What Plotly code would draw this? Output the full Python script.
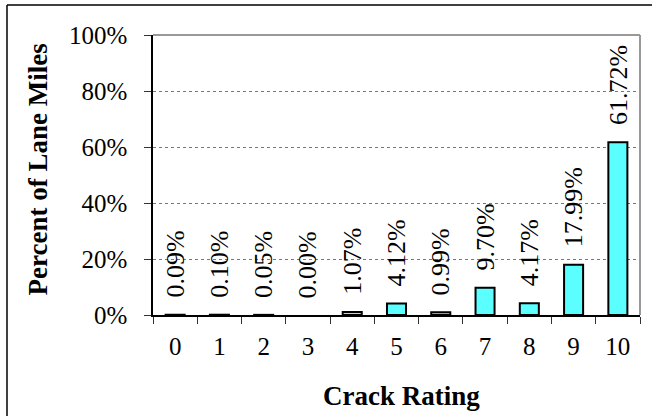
import plotly.graph_objects as go

categories = ["0", "1", "2", "3", "4", "5", "6", "7", "8", "9", "10"]
values = [0.09, 0.10, 0.05, 0.00, 1.07, 4.12, 0.99, 9.70, 4.17, 17.99, 61.72]
y_ticks = [0, 20, 40, 60, 80, 100]
y_tick_labels = ["0%", "20%", "40%", "60%", "80%", "100%"]

FONT = "Liberation Serif, Times New Roman, serif"

# zero-height bars are not drawn in the reference
bar_values = [v if v > 0 else None for v in values]

fig = go.Figure()
fig.add_trace(go.Bar(
    x=categories, y=bar_values,
    width=0.43,
    marker=dict(color="#5CFFFF", line=dict(color="black", width=2)),
    hoverinfo="skip",
))

for c, v in zip(categories, values):
    fig.add_annotation(
        x=c, y=v, xref="x", yref="y",
        text=f"{v:.2f}%", showarrow=False, textangle=-90,
        xanchor="center", yanchor="bottom", yshift=15,
        font=dict(family=FONT, size=26, color="black"),
    )

fig.update_layout(
    width=652, height=416,
    margin=dict(l=153, r=12, t=35, b=101),
    paper_bgcolor="white", plot_bgcolor="white",
    showlegend=False,
    bargap=0.57,
    font=dict(family=FONT, size=25, color="black"),
)

fig.update_xaxes(
    type="category",
    showline=True, linecolor="black", linewidth=1.5,
    ticks="outside", tickson="boundaries", ticklen=7, tickcolor="#333", tickwidth=1,
    ticklabelstandoff=8,
    showgrid=False,
    tickfont=dict(family=FONT, size=25, color="black"),
)
fig.update_yaxes(
    range=[0, 100],
    tickvals=y_ticks, ticktext=y_tick_labels,
    showline=True, linecolor="black", linewidth=1.5,
    ticks="outside", ticklen=7, tickcolor="#333", tickwidth=1,
    ticklabelstandoff=12,
    showgrid=True, gridcolor="#777", griddash="dot", gridwidth=1,
    zeroline=False,
    tickfont=dict(family=FONT, size=25, color="black"),
)

# gray plot-area border (top and right)
fig.add_shape(type="line", xref="paper", yref="paper", x0=0, y0=1, x1=1, y1=1,
              line=dict(color="#999", width=2))
fig.add_shape(type="line", xref="paper", yref="paper", x0=1, y0=0, x1=1, y1=1,
              line=dict(color="#999", width=2))

# outer chart frame (left and top edges visible)
fig.add_shape(type="line", xref="paper", yref="paper", x0=-0.2998, y0=-0.37, x1=-0.2998, y1=1.107,
              line=dict(color="black", width=1.5))
fig.add_shape(type="line", xref="paper", yref="paper", x0=-0.2998, y0=1.107, x1=1.03, y1=1.107,
              line=dict(color="black", width=1.5))

# axis titles
fig.add_annotation(
    x=-0.236, y=0.52, xref="paper", yref="paper",
    text="<b>Percent of Lane Miles</b>", showarrow=False, textangle=-90,
    xanchor="center", yanchor="middle",
    font=dict(family=FONT, size=27, color="black"),
)
fig.add_annotation(
    x=0.51, y=-0.29, xref="paper", yref="paper",
    text="<b>Crack Rating</b>", showarrow=False,
    xanchor="center", yanchor="middle",
    font=dict(family=FONT, size=27, color="black"),
)

fig.write_html("out.html", config={"displayModeBar": False},
               post_script="document.body.style.margin='0';")
